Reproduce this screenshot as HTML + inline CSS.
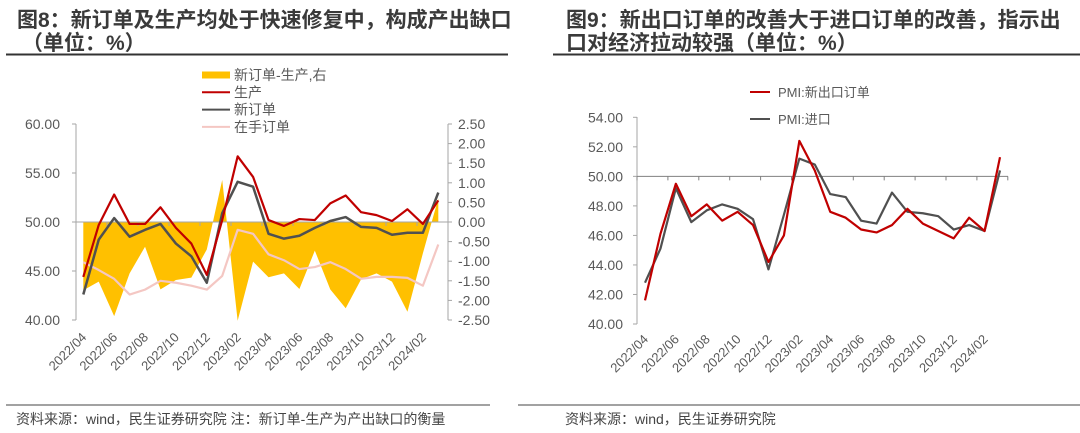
<!DOCTYPE html>
<html><head><meta charset="utf-8"><style>
body{margin:0;background:#fff;width:1080px;height:433px;overflow:hidden;font-family:"Liberation Sans","Noto Sans CJK SC",sans-serif}
svg{position:absolute;left:0;top:0}
</style></head><body>
<svg id="c" width="1080" height="433" font-family="Liberation Sans, Noto Sans CJK SC, sans-serif">
<g fill="#3a3a3a" font-weight="bold" font-size="21">
<text x="17" y="27">图8：新订单及生产均处于快速修复中，构成产出缺口</text>
<text x="22" y="50">（单位：%）</text></g>
<line x1="6" y1="54.5" x2="508" y2="54.5" stroke="#333" stroke-width="2"/>
<g fill="#3a3a3a" font-weight="bold" font-size="21">
<text x="566" y="27">图9：新出口订单的改善大于进口订单的改善，指示出</text>
<text x="566" y="50">口对经济拉动较强（单位：%）</text></g>
<line x1="553" y1="54.5" x2="1080" y2="54.5" stroke="#333" stroke-width="2"/>
<line x1="6" y1="405" x2="490" y2="405" stroke="#444" stroke-width="1"/>
<line x1="518" y1="405" x2="1080" y2="405" stroke="#444" stroke-width="1"/>
<text x="16" y="424" font-size="14" fill="#444">资料来源：wind，民生证券研究院  注：新订单-生产为产出缺口的衡量</text>
<text x="565" y="424" font-size="14" fill="#444">资料来源：wind，民生证券研究院</text>
<g id="L"></g><g id="R"></g>
</svg>
<script>
const months=["2022/04","2022/05","2022/06","2022/07","2022/08","2022/09","2022/10","2022/11","2022/12","2023/01","2023/02","2023/03","2023/04","2023/05","2023/06","2023/07","2023/08","2023/09","2023/10","2023/11","2023/12","2024/01","2024/02","2024/03"];
const production=[44.4,49.7,52.8,49.8,49.8,51.5,49.4,47.8,44.6,50.2,56.7,54.6,50.2,49.6,50.3,50.2,51.9,52.7,51.0,50.7,50.1,51.3,49.8,52.2];
const newOrders=[42.6,48.2,50.4,48.5,49.2,49.8,47.8,46.5,43.8,50.9,54.1,53.6,48.8,48.3,48.6,49.4,50.1,50.5,49.5,49.4,48.7,48.9,48.9,53.0];
const backlog=[45.9,45.1,44.2,42.6,43.1,44.0,43.8,43.5,43.1,44.5,49.2,48.8,46.7,46.1,45.2,45.4,45.9,45.2,44.2,44.4,44.4,44.3,43.5,47.7];
const gap=[-1.74,-1.52,-2.4,-1.31,-0.63,-1.72,-1.48,-1.42,-0.7,1.07,-2.52,-1.01,-1.41,-1.31,-1.71,-0.73,-1.72,-2.2,-1.46,-1.31,-1.52,-2.29,-0.8,0.6];
const leftTicks=["40.00","45.00","50.00","55.00","60.00"];
const rightTicks=["-2.50","-2.00","-1.50","-1.00","-0.50","0.00","0.50","1.00","1.50","2.00","2.50"];
const exportOrders=[41.6,46.1,49.5,47.3,48.1,47.0,47.6,46.7,44.2,46.0,52.4,50.4,47.6,47.2,46.4,46.2,46.7,47.8,46.8,46.3,45.8,47.2,46.3,51.3];
const importIdx=[42.8,45.1,49.2,46.9,47.7,48.1,47.8,47.1,43.7,47.4,51.2,50.8,48.8,48.6,47.0,46.8,48.9,47.6,47.5,47.3,46.4,46.7,46.3,50.4];
const r2Ticks=["40.00","42.00","44.00","46.00","48.00","50.00","52.00","54.00"];
const NS="http://www.w3.org/2000/svg";
function mk(p,t,a,txt){const e=document.createElementNS(NS,t);for(const k in a)e.setAttribute(k,a[k]);if(txt!=null)e.textContent=txt;p.appendChild(e);return e;}
function xlabels(g,x,yb){for(let i=0;i<months.length;i+=2){const X=x(i);const t=mk(g,"text",{x:X+4,y:yb,"font-size":13,fill:"#595959","text-anchor":"end",transform:`rotate(-45 ${X+4} ${yb})`},months[i]);

}}
function poly(g,vals,x,y,col,w,name){const l=mk(g,"polyline",{points:vals.map((v,i)=>x(i)+","+y(v)).join(" "),fill:"none",stroke:col,"stroke-width":w,"stroke-linejoin":"round"});

}
// LEFT
(function(){const g=document.getElementById("L");
const x=i=>83.3+i*(438.3-83.3)/23, y=v=>320-(v-40)/20*196, yr=v=>222-v/2.5*98;
mk(g,"line",{x1:76,y1:124,x2:76,y2:320,stroke:"#a6a6a6"});mk(g,"line",{x1:448,y1:124,x2:448,y2:320,stroke:"#a6a6a6"});
leftTicks.forEach(t=>{const Y=y(+t);mk(g,"line",{x1:72,y1:Y,x2:76,y2:Y,stroke:"#a6a6a6"});const e=mk(g,"text",{x:60,y:Y+5,"font-size":14,fill:"#595959","text-anchor":"end"},t);

});
rightTicks.forEach(t=>{const Y=yr(+t);mk(g,"line",{x1:448,y1:Y,x2:452,y2:Y,stroke:"#a6a6a6"});const e=mk(g,"text",{x:458,y:Y+5,"font-size":14,fill:"#595959"},t);

});
const a=mk(g,"polygon",{points:[x(0)+","+yr(0)].concat(gap.map((v,i)=>x(i)+","+yr(v))).concat([x(23)+","+yr(0)]).join(" "),fill:"#ffc000"});


mk(g,"line",{x1:76,y1:yr(0),x2:448,y2:yr(0),stroke:"#a6a6a6"});
for(let i=0;i<=12;i++){const X=76+i*31;mk(g,"line",{x1:X,y1:yr(0),x2:X,y2:yr(0)+4,stroke:"#a6a6a6"});}
poly(g,backlog,x,y,"#f4c7c3",2.2,"backlog-line");
poly(g,newOrders,x,y,"#505050",2.5,"new-orders-line");
poly(g,production,x,y,"#c00000",2.2,"production-line");
xlabels(g,i=>x(i),338);
const lg=[["新订单-生产,右","#ffc000",7],["生产","#c00000",2],["新订单","#505050",2],["在手订单","#f4c7c3",2]];
lg.forEach((d,k)=>{const Y=75+k*17.3;mk(g,"line",{x1:202,y1:Y,x2:230,y2:Y,stroke:d[1],"stroke-width":d[2]});const e=mk(g,"text",{x:234,y:Y+5,"font-size":14,fill:"#595959"},d[0]);

});
})();
// RIGHT
(function(){const g=document.getElementById("R");
const x=i=>645+i*(1000-645)/23, y=v=>324-(v-40)/14*206.7;
mk(g,"line",{x1:637,y1:117,x2:637,y2:324,stroke:"#a6a6a6"});
r2Ticks.forEach(t=>{const Y=y(+t);mk(g,"line",{x1:633,y1:Y,x2:637,y2:Y,stroke:"#a6a6a6"});const e=mk(g,"text",{x:623,y:Y+5,"font-size":14,fill:"#595959","text-anchor":"end"},t);

});
mk(g,"line",{x1:637,y1:y(50),x2:1008,y2:y(50),stroke:"#808080"});
for(let i=0;i<=12;i++){const X=637+i*30.9;mk(g,"line",{x1:X,y1:y(50),x2:X,y2:y(50)+4,stroke:"#808080"});}
poly(g,importIdx,x,y,"#505050",2.2,"import-line");
poly(g,exportOrders,x,y,"#c00000",2.2,"export-orders-line");
xlabels(g,i=>x(i),340);
[["PMI:新出口订单","#c00000",92],["PMI:进口","#505050",119]].forEach(d=>{mk(g,"line",{x1:750,y1:d[2],x2:770,y2:d[2],stroke:d[1],"stroke-width":2});const e=mk(g,"text",{x:778,y:d[2]+5,"font-size":13,fill:"#595959"},d[0]);

});
})();
</script>
</body></html>
